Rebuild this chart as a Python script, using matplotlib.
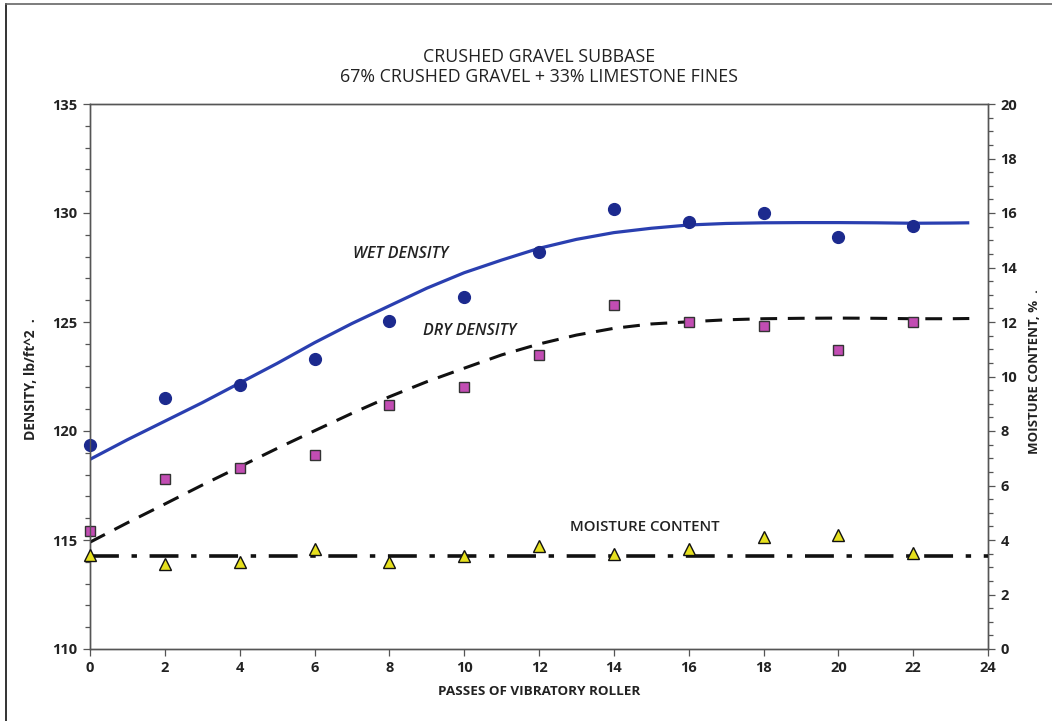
import matplotlib
matplotlib.use("Agg")
import matplotlib.pyplot as plt
from matplotlib.ticker import MultipleLocator
from matplotlib.lines import Line2D

plt.rcParams['font.family'] = ['Open Sans', 'DejaVu Sans']

# ---- data ----
passes = [0, 2, 4, 6, 8, 10, 12, 14, 16, 18, 20, 22]
wet_density = [119.35, 121.5, 122.1, 123.3, 125.05, 126.15, 128.2, 130.2, 129.6, 130.0, 128.9, 129.4]
dry_density = [115.4, 117.8, 118.3, 118.9, 121.2, 122.0, 123.5, 125.8, 125.0, 124.8, 123.7, 125.0]
moisture = [3.45, 3.12, 3.2, 3.67, 3.2, 3.41, 3.79, 3.47, 3.67, 4.12, 4.18, 3.51]

fit_x = [0, 1, 2, 3, 4, 5, 6, 7, 8, 9, 10, 11, 12, 13, 14, 15, 16, 17, 18, 19, 20, 21, 22, 23, 23.5]
wet_fit = [118.7, 119.6, 120.45, 121.3, 122.2, 123.1, 124.05, 124.93, 125.74, 126.55, 127.26, 127.84,
           128.38, 128.79, 129.1, 129.3, 129.45, 129.52, 129.55, 129.56, 129.56, 129.55, 129.53, 129.54, 129.55]
dry_fit = [114.9, 115.79, 116.65, 117.52, 118.36, 119.2, 120.01, 120.81, 121.57, 122.26, 122.88, 123.49,
           123.99, 124.4, 124.71, 124.91, 125.01, 125.1, 125.15, 125.17, 125.18, 125.17, 125.15, 125.15, 125.16]
moist_fit_x = [0, 24]
moist_fit = [3.43, 3.43]

title = "CRUSHED GRAVEL SUBBASE\n67% CRUSHED GRAVEL + 33% LIMESTONE FINES"

# ---- figure ----
fig = plt.figure(figsize=(10.52, 7.21), dpi=100)
ax = fig.add_axes([90/1052, 1-649/721, (988-90)/1052, (649-104)/721])
ax2 = ax.twinx()

text_col = '#222222'
spine_col = '#555555'

ax.plot(fit_x, wet_fit, color='#2a3fb0', lw=2.3, zorder=3, solid_capstyle='butt')
ax.plot(fit_x, dry_fit, color='#111111', lw=2.2, dashes=(5.5, 3.5), zorder=3)
ax.plot(passes, wet_density, 'o', color='#1c2a8e', ms=8.5, mec='#1c2a8e', zorder=4, clip_on=False)
ax.plot(passes, dry_density, 's', color='#c24db3', ms=7.2, mec='#333333', mew=1.0, zorder=4, clip_on=False)

ax2.plot(moist_fit_x, moist_fit, color='#111111', lw=2.6, dashes=(8, 3.5, 1.5, 3.5), zorder=3)
ax2.plot(passes, moisture, '^', color='#e6e01e', ms=9, mec='#111111', mew=1.0, zorder=4, clip_on=False)

ax.set_xlim(0, 24)
ax.set_ylim(110, 135)
ax2.set_ylim(0, 20)

ax.xaxis.set_major_locator(MultipleLocator(2))
ax.yaxis.set_major_locator(MultipleLocator(5))
ax.yaxis.set_minor_locator(MultipleLocator(1))
ax2.yaxis.set_major_locator(MultipleLocator(2))
ax2.yaxis.set_minor_locator(MultipleLocator(0.5))

for a in (ax, ax2):
    for s in a.spines.values():
        s.set_color(spine_col)
        s.set_linewidth(1.0)
    a.tick_params(which='both', colors=spine_col, labelcolor=text_col, width=0.9)
    a.tick_params(which='major', length=5, labelsize=10.5, pad=4)
    a.tick_params(which='minor', length=3.5)

for lab in ax.get_xticklabels() + ax.get_yticklabels() + ax2.get_yticklabels():
    lab.set_fontweight('bold')

ax.set_xlabel("PASSES OF VIBRATORY ROLLER", fontsize=9.7, fontweight='bold', color=text_col, labelpad=6.5)

fig.text(31/1052, 1-379/721, "DENSITY, lb/ft^2  .", rotation=90, ha='center', va='center',
         fontsize=10, fontweight='bold', color=text_col)
fig.text(1034/1052, 1-372/721, "MOISTURE CONTENT, %  .", rotation=90, ha='center', va='center',
         fontsize=9.5, fontweight='bold', color=text_col)

ax.text(7.03, 128.1, "WET DENSITY", fontsize=11.5, style='italic', fontweight='semibold',
        color=text_col, va='center', ha='left')
ax.text(8.9, 124.6, "DRY DENSITY", fontsize=11.5, style='italic', fontweight='semibold',
        color=text_col, va='center', ha='left')
ax2.text(12.83, 4.48, "MOISTURE CONTENT", fontsize=10.8, fontweight='semibold', color=text_col,
         va='center', ha='left')

fig.text(539/1052, 1-67/721, title, ha='center', va='center', fontsize=12.8, color=text_col,
         linespacing=1.2)

# outer frame
fig.add_artist(Line2D([6/1052, 6/1052], [0, 1-4/721], color='#111111', lw=1.2, transform=fig.transFigure))
fig.add_artist(Line2D([6/1052, 1], [1-4/721, 1-4/721], color='#666666', lw=1.2, transform=fig.transFigure))

fig.savefig("out.png", dpi=100)
